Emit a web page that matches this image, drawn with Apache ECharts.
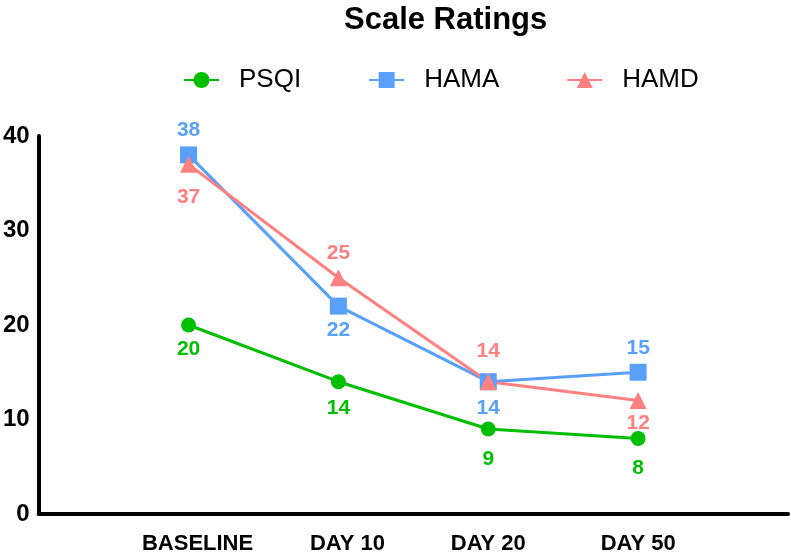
<!DOCTYPE html>
<html>
<head>
<meta charset="utf-8">
<script src="https://cdn.jsdelivr.net/npm/echarts@6/dist/echarts.min.js"></script>
<style>html,body{margin:0;padding:0;background:#fff}#c{width:791px;height:558px}</style>
</head>
<body>
<div id="c"></div>
<script>
const categories = ['BASELINE', 'DAY 10', 'DAY 20', 'DAY 50'];
const psqi = [20, 14, 9, 8];
const hama = [38, 22, 14, 15];
const hamd = [37, 25, 14, 12];
const yTicks = [0, 10, 20, 30, 40];

// label placement (style, not data)
const psqiPos = ['bottom', 'bottom', 'bottom', 'bottom'];
const psqiDist = [6, 9, 12, 12];
const hamaPos = ['top', 'bottom', 'bottom', 'top'];
const hamaDist = [6, 5, 8, 5];
const hamdPos = ['bottom', 'top', 'top', 'bottom'];
const hamdDist = [14, 6, 11, 4];
const catLabelShift = [18, 18, 0, 0];

const GREEN = 'rgb(0,190,0)';
const BLUE = 'rgb(88,160,250)';
const PINK = 'rgb(255,128,128)';
const FONT = 'Liberation Sans, Arial, sans-serif';

function build(vals, pos, dist) {
  const d = vals.map((v, i) => ({
    value: v,
    label: { position: pos[i], distance: dist[i] }
  }));
  return ['-', ...d, '-'];
}

function series(name, vals, pos, dist, color, symbol, size) {
  return {
    name: name,
    type: 'line',
    data: build(vals, pos, dist),
    symbol: symbol,
    symbolSize: size,
    lineStyle: { color: color, width: 3 },
    itemStyle: { color: color },
    label: {
      show: true,
      color: color,
      fontFamily: FONT,
      fontWeight: 'bold',
      fontSize: 21
    },
    emphasis: { disabled: true },
    animation: false
  };
}

const xData = ['', ...categories.map((c, i) => ({
  value: c,
  textStyle: { padding: [0, 0, 0, catLabelShift[i]] }
})), ''];

const chart = echarts.init(document.getElementById('c'), null, { renderer: 'canvas' });
chart.setOption({
  backgroundColor: '#fff',
  animation: false,
  title: {
    text: 'Scale Ratings',
    left: 339,
    top: 0,
    textStyle: {
      fontFamily: FONT,
      fontWeight: 'bold',
      fontSize: 31,
      color: '#000'
    }
  },
  legend: {
    left: 178,
    top: 62,
    itemWidth: 35,
    itemHeight: 20,
    itemGap: 67,
    textStyle: {
      fontFamily: FONT,
      fontSize: 26,
      color: '#000',
      padding: [0, 0, 0, 15]
    },
    data: ['PSQI', 'HAMA', 'HAMD']
  },
  grid: { left: 33, right: 0, top: 136, bottom: 44, containLabel: false },
  xAxis: {
    type: 'category',
    boundaryGap: false,
    data: xData,
    axisLine: { show: true, lineStyle: { color: '#000', width: 4 } },
    axisTick: { show: false },
    splitLine: { show: false },
    axisLabel: {
      margin: 19,
      fontFamily: FONT,
      fontWeight: 'bold',
      fontSize: 22,
      color: '#000',
      interval: 0
    }
  },
  yAxis: {
    type: 'value',
    min: yTicks[0],
    max: yTicks[yTicks.length - 1],
    interval: 10,
    axisLine: { show: true, lineStyle: { color: '#000', width: 4 } },
    axisTick: { show: false },
    splitLine: { show: false },
    axisLabel: {
      margin: 9,
      fontFamily: FONT,
      fontWeight: 'bold',
      fontSize: 24,
      color: '#000'
    }
  },
  series: [
    series('PSQI', psqi, psqiPos, psqiDist, GREEN, 'circle', 15),
    series('HAMA', hama, hamaPos, hamaDist, BLUE, 'rect', 17),
    series('HAMD', hamd, hamdPos, hamdDist, PINK, 'triangle', 17)
  ]
});
</script>
</body>
</html>
